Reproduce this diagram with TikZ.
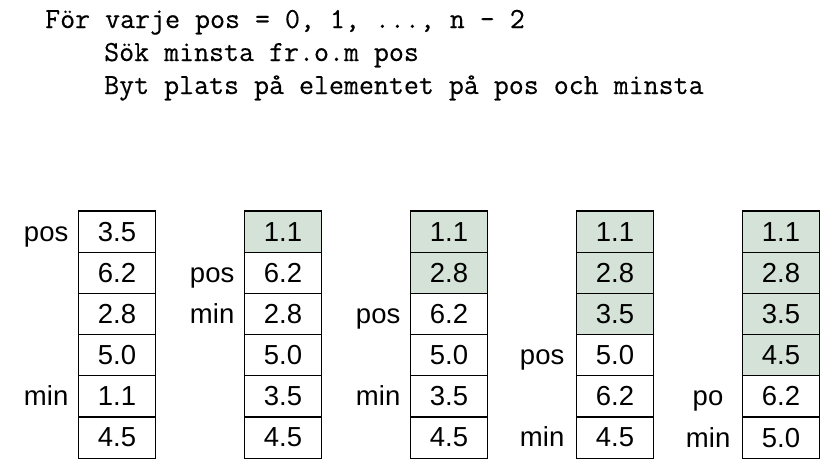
\documentclass[tikz,border=0pt]{standalone}
\usepackage{fontspec}
\setsansfont{Liberation Sans}
\newfontfamily\codefont[FakeBold=0.4]{Latin Modern Mono}
\usetikzlibrary{positioning}
\definecolor{done}{RGB}{213,226,216}

\begin{document}
\begin{tikzpicture}[x=1pt,y=-1pt,
    cell/.style={draw,line width=1.3pt,outer sep=0pt,inner sep=0pt,minimum width=77pt,minimum height=41.2pt,font=\sffamily\fontsize{27.5}{27.5}\selectfont},
    tag/.style={inner sep=0pt,anchor=base east,font=\sffamily\fontsize{27.5}{27.5}\selectfont},
    code/.style={anchor=base west,inner sep=0pt,font=\codefont\fontsize{29.1}{29.1}\selectfont}]
    \useasboundingbox (0,0) rectangle (828,466);
    % pseudokod
    \node[code] (rad1) at (45,28) {För varje pos = 0, 1, ..., n - 2};
    \node[code] (rad2) at (104,61) {Sök minsta fr.o.m pos};
    \node[code] (rad3) at (104,94) {Byt plats på elementet på pos och minsta};
    % fälten efter varje steg
    \foreach \vals/\ndone [count=\i] in {
        {3.5,6.2,2.8,5.0,1.1,4.5}/0,
        {1.1,6.2,2.8,5.0,3.5,4.5}/1,
        {1.1,2.8,6.2,5.0,3.5,4.5}/2,
        {1.1,2.8,3.5,5.0,6.2,4.5}/3,
        {1.1,2.8,3.5,4.5,6.2,5.0}/4}
    {
        \foreach \v [count=\j] in \vals {
            \ifnum\j>\ndone \def\cf{white}\else\def\cf{done}\fi
            \node[cell,fill=\cf] (c\i-\j) at ({117+166*(\i-1)},{231.6+41.2*(\j-1)}) {\v};
        }
    }
    \node[tag] (pos1) [left=10pt of c1-1.base west,anchor=base east] {pos};
    \node[tag] (min1) [left=10pt of c1-5.base west,anchor=base east] {min};
    \node[tag] (pos2) [left=10pt of c2-2.base west,anchor=base east] {pos};
    \node[tag] (min2) [left=10pt of c2-3.base west,anchor=base east] {min};
    \node[tag] (pos3) [left=10pt of c3-3.base west,anchor=base east] {pos};
    \node[tag] (min3) [left=10pt of c3-5.base west,anchor=base east] {min};
    \node[tag] (pos4) [left=12pt of c4-4.base west,anchor=base east] {pos};
    \node[tag] (min4) [left=12pt of c4-6.base west,anchor=base east] {min};
    \node[tag] (pos5) [left=19pt of c5-5.base west,anchor=base east] {po};
    \node[tag] (min5) [left=12pt of c5-6.base west,anchor=base east] {min};
\end{tikzpicture}
\end{document}
